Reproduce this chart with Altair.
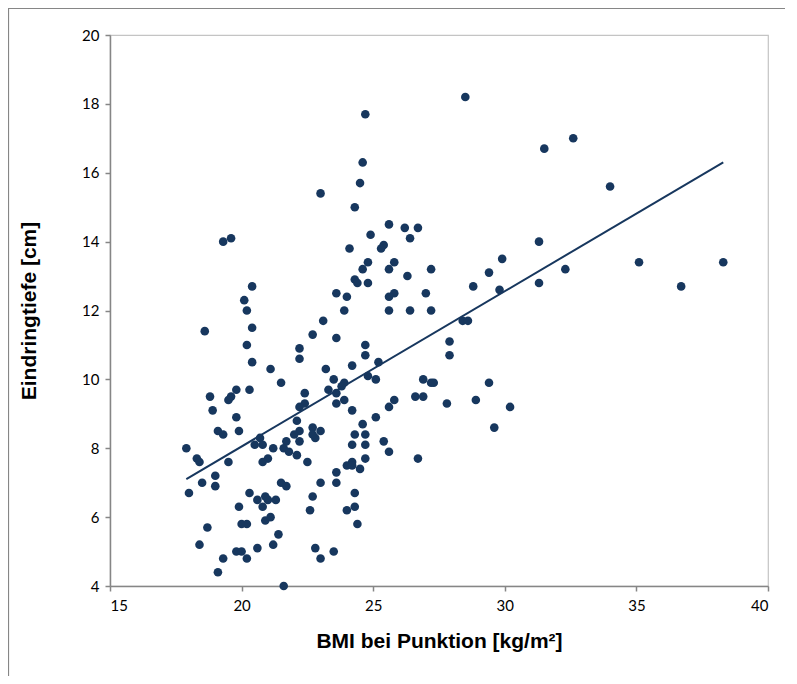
import altair as alt
import pandas as pd

# BMI bei Punktion [kg/m²]
bmi = [
    28.5, 31.5, 32.6, 34.0, 26.2, 26.7, 26.4, 26.3, 27.2, 27.0, 26.4, 27.2, 31.3, 29.9, 29.4, 28.8,
    29.8, 31.3, 32.3, 35.1, 38.3, 36.7, 28.4, 28.6, 27.9, 27.9, 26.9, 27.2, 27.3, 26.6, 26.9, 27.8,
    28.9, 29.4, 30.2, 29.6, 26.7,
    24.7, 24.6, 24.5, 23.0, 24.3, 25.6, 24.9, 24.1, 25.4, 25.3, 24.8, 24.6, 25.8, 25.6, 24.3, 24.4,
    24.8, 23.6, 24.0, 25.8, 25.6, 23.9, 25.6, 23.1, 22.7, 23.6,
    19.6, 19.3, 20.4, 20.1, 20.2, 18.6, 20.4,
    20.2, 20.4, 21.1, 21.5, 22.2, 22.2, 18.8, 19.8, 19.6, 19.5, 20.3, 18.9, 19.8, 19.1, 19.3, 19.9,
    17.9, 18.3, 18.4, 19.5, 20.7, 20.5, 20.8, 21.7, 21.2, 21.6, 21.8, 22.1, 21.0, 20.8, 19.0, 18.5,
    19.0, 18.0, 20.3, 21.5, 21.7, 20.6, 20.9, 21.0, 21.3, 20.8, 19.9, 20.0, 20.2, 20.9, 21.1, 21.4,
    18.7, 18.4, 19.8, 20.0, 20.2, 20.6, 21.2, 19.3, 19.1, 21.6,
    24.7, 24.7, 25.2, 23.2, 24.2, 23.5, 23.9, 23.8, 24.8, 25.1, 22.4, 23.3, 23.6, 23.9, 23.6, 22.4,
    22.2, 24.2, 25.8, 25.6, 25.1, 22.1, 22.2, 22.0, 22.2, 22.7, 23.0, 22.8, 22.7, 22.5, 24.6, 24.3,
    24.7, 24.2, 24.7, 24.7, 24.2, 24.0, 24.2, 24.5, 25.4, 25.6, 23.6, 23.6, 23.0, 22.7, 22.6, 24.3,
    24.3, 24.0, 24.4, 22.8, 23.0, 23.5,
]

# Eindringtiefe [cm]
tiefe = [
    18.2, 16.7, 17.0, 15.6, 14.4, 14.4, 14.1, 13.0, 13.2, 12.5, 12.0, 12.0, 14.0, 13.5, 13.1, 12.7,
    12.6, 12.8, 13.2, 13.4, 13.4, 12.7, 11.7, 11.7, 11.1, 10.7, 10.0, 9.9, 9.9, 9.5, 9.5, 9.3,
    9.4, 9.9, 9.2, 8.6, 7.7,
    17.7, 16.3, 15.7, 15.4, 15.0, 14.5, 14.2, 13.8, 13.9, 13.8, 13.4, 13.2, 13.4, 13.2, 12.9, 12.8,
    12.8, 12.5, 12.4, 12.5, 12.4, 12.0, 12.0, 11.7, 11.3, 11.2,
    14.1, 14.0, 12.7, 12.3, 12.0, 11.4, 11.5,
    11.0, 10.5, 10.3, 9.9, 10.9, 10.6, 9.5, 9.7, 9.5, 9.4, 9.7, 9.1, 8.9, 8.5, 8.4, 8.5,
    8.0, 7.7, 7.6, 7.6, 8.3, 8.1, 8.1, 8.2, 8.0, 8.0, 7.9, 7.8, 7.7, 7.6, 7.2, 7.0,
    6.9, 6.7, 6.7, 7.0, 6.9, 6.5, 6.6, 6.5, 6.5, 6.3, 6.3, 5.8, 5.8, 5.9, 6.0, 5.5,
    5.7, 5.2, 5.0, 5.0, 4.8, 5.1, 5.2, 4.8, 4.4, 4.0,
    11.0, 10.7, 10.5, 10.3, 10.4, 10.0, 9.9, 9.8, 10.1, 10.0, 9.6, 9.7, 9.6, 9.4, 9.3, 9.3,
    9.2, 9.1, 9.4, 9.2, 8.9, 8.8, 8.5, 8.4, 8.2, 8.6, 8.5, 8.3, 8.4, 7.6, 8.7, 8.4,
    8.4, 8.1, 8.1, 7.7, 7.6, 7.5, 7.5, 7.4, 8.2, 7.9, 7.3, 7.0, 7.0, 6.6, 6.2, 6.7,
    6.3, 6.2, 5.8, 5.1, 4.8, 5.0,
]

x_ticks = [15, 20, 25, 30, 35, 40]
y_ticks = [4, 6, 8, 10, 12, 14, 16, 18, 20]

x_title = "BMI bei Punktion [kg/m²]"
y_title = "Eindringtiefe [cm]"

df = pd.DataFrame({"bmi": bmi, "tiefe": tiefe})

NAVY = "#17375e"
AXIS_GRAY = "#868686"
LABEL_FONT = "Lato"
TITLE_FONT = "Liberation Sans"

x_enc = alt.X(
    "bmi:Q",
    scale=alt.Scale(domain=[15, 40], nice=False, zero=False),
    axis=alt.Axis(
        values=x_ticks, title=x_title, grid=False,
        labelFont=LABEL_FONT, labelFontSize=15, labelColor="#000000", labelPadding=7,
        titleFont=TITLE_FONT, titleFontSize=21, titleFontWeight="bold", titleColor="#000000",
        titlePadding=17,
        domainColor=AXIS_GRAY, domainWidth=1.5, tickColor=AXIS_GRAY, tickWidth=1.5, tickSize=5,
    ),
)
y_enc = alt.Y(
    "tiefe:Q",
    scale=alt.Scale(domain=[4, 20], nice=False, zero=False),
    axis=alt.Axis(
        values=y_ticks, title=y_title, grid=False,
        labelFont=LABEL_FONT, labelFontSize=15, labelColor="#000000", labelPadding=6,
        titleFont=TITLE_FONT, titleFontSize=21, titleFontWeight="bold", titleColor="#000000",
        titlePadding=42,
        domainColor=AXIS_GRAY, domainWidth=1.5, tickColor=AXIS_GRAY, tickWidth=1.5, tickSize=5,
    ),
)

points = alt.Chart(df).mark_circle(size=74, color=NAVY, opacity=1).encode(x=x_enc, y=y_enc)

trend = (
    alt.Chart(df)
    .transform_regression("bmi", "tiefe")
    .mark_line(color=NAVY, strokeWidth=2)
    .encode(x="bmi:Q", y="tiefe:Q")
)

frame_src = alt.Data(values=[{"k": 1}])
frame_left = alt.Chart(frame_src).mark_rule(color=AXIS_GRAY, strokeWidth=1.2).encode(
    x=alt.value(-101.5), y=alt.value(-27), y2=alt.value(800)
)
frame_top = alt.Chart(frame_src).mark_rule(color=AXIS_GRAY, strokeWidth=1.2).encode(
    x=alt.value(-102), x2=alt.value(800), y=alt.value(-26.5)
)

chart = (
    alt.layer(points, trend, frame_left, frame_top)
    .properties(
        width=658,
        height=551,
        autosize=alt.AutoSizeParams(type="none"),
        padding={"left": 102, "top": 27, "right": 17, "bottom": 90},
    )
    .configure_view(stroke="#c4c4c4", strokeWidth=1.2)
)

chart.save("out.html", embed_options={"renderer": "svg", "actions": False})
